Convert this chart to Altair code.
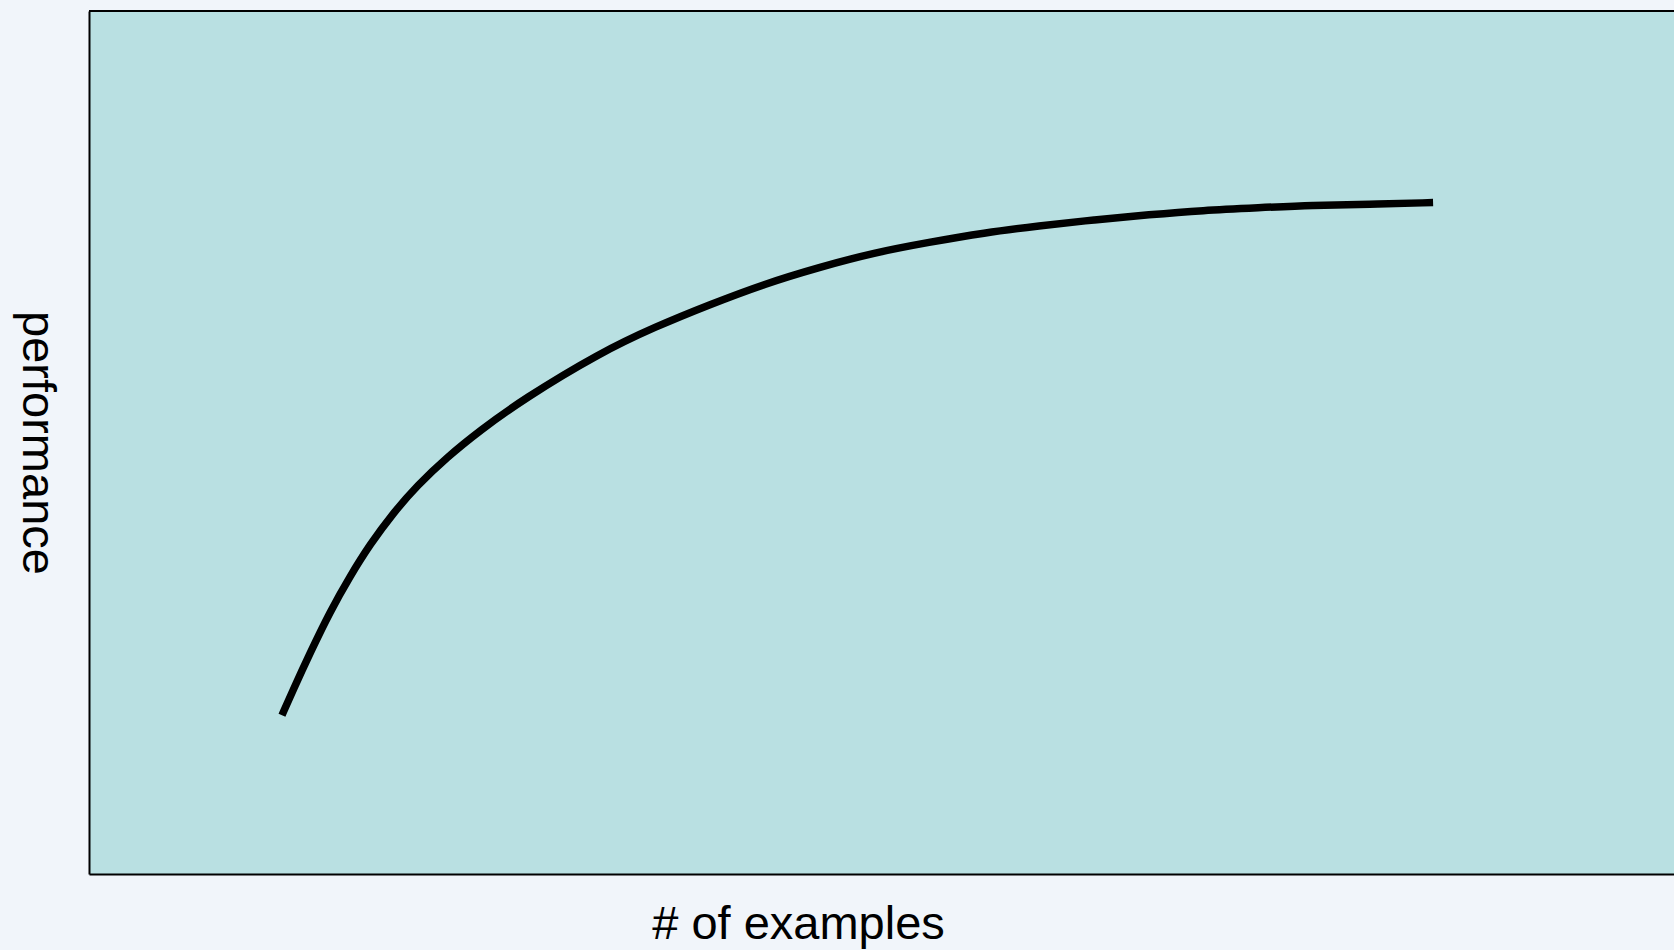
import altair as alt
import pandas as pd

# Learning curve: performance as a function of the number of training examples
examples = [1.948, 2.059, 2.231, 2.433, 2.635, 2.837, 3.069, 3.311, 3.614, 3.947,
            4.381, 5.158, 5.714, 6.269, 6.824, 7.369, 7.925, 8.480, 9.035, 9.590,
            10.145, 10.701, 11.246, 11.801, 12.356, 12.911, 13.568]
performance = [0.184, 0.213, 0.256, 0.304, 0.345, 0.382, 0.418, 0.450, 0.483, 0.514,
               0.550, 0.604, 0.634, 0.660, 0.684, 0.703, 0.720, 0.732, 0.743, 0.751,
               0.758, 0.764, 0.769, 0.772, 0.775, 0.776, 0.778]

df = pd.DataFrame({"examples": examples, "performance": performance})

W, H = 1585, 863
FONT = "Liberation Sans"

curve = alt.Chart(df).mark_line(
    color="black", strokeWidth=7.5, strokeCap="butt", interpolate="basis"
).encode(
    x=alt.X(
        "examples:Q",
        scale=alt.Scale(domain=[0, 16], nice=False, zero=False),
        axis=alt.Axis(
            title="# of examples", labels=False, ticks=False, grid=False,
            domain=True, domainColor="black", domainWidth=2,
            titleFont=FONT, titleFontSize=47, titleFontWeight="normal",
            titleColor="black", titleX=709, titleY=64,
            titleAlign="center", titleBaseline="alphabetic",
        ),
    ),
    y=alt.Y(
        "performance:Q",
        scale=alt.Scale(domain=[0, 1], nice=False),
        axis=alt.Axis(
            title="performance", labels=False, ticks=False, grid=False,
            domain=True, domainColor="black", domainWidth=2,
            titleFont=FONT, titleFontSize=47, titleFontWeight="normal",
            titleColor="black", titleAngle=90, titleX=-67, titleY=H / 2,
            titleAlign="center", titleBaseline="alphabetic",
        ),
    ),
)

# top edge of the plot frame
top_edge = alt.Chart(df).mark_rule(color="black", strokeWidth=2).encode(
    x=alt.value(0), x2=alt.value(W), y=alt.value(0)
)

chart = alt.layer(top_edge, curve).properties(
    width=W,
    height=H,
    autosize=alt.AutoSizeParams(type="none"),
    padding={"left": 89, "top": 11, "right": 0, "bottom": 76},
    background="#F1F5FA",
).configure_view(
    fill="#B9E0E2", stroke=None
)

chart.save("out.html", embed_options={"renderer": "svg", "actions": False})
